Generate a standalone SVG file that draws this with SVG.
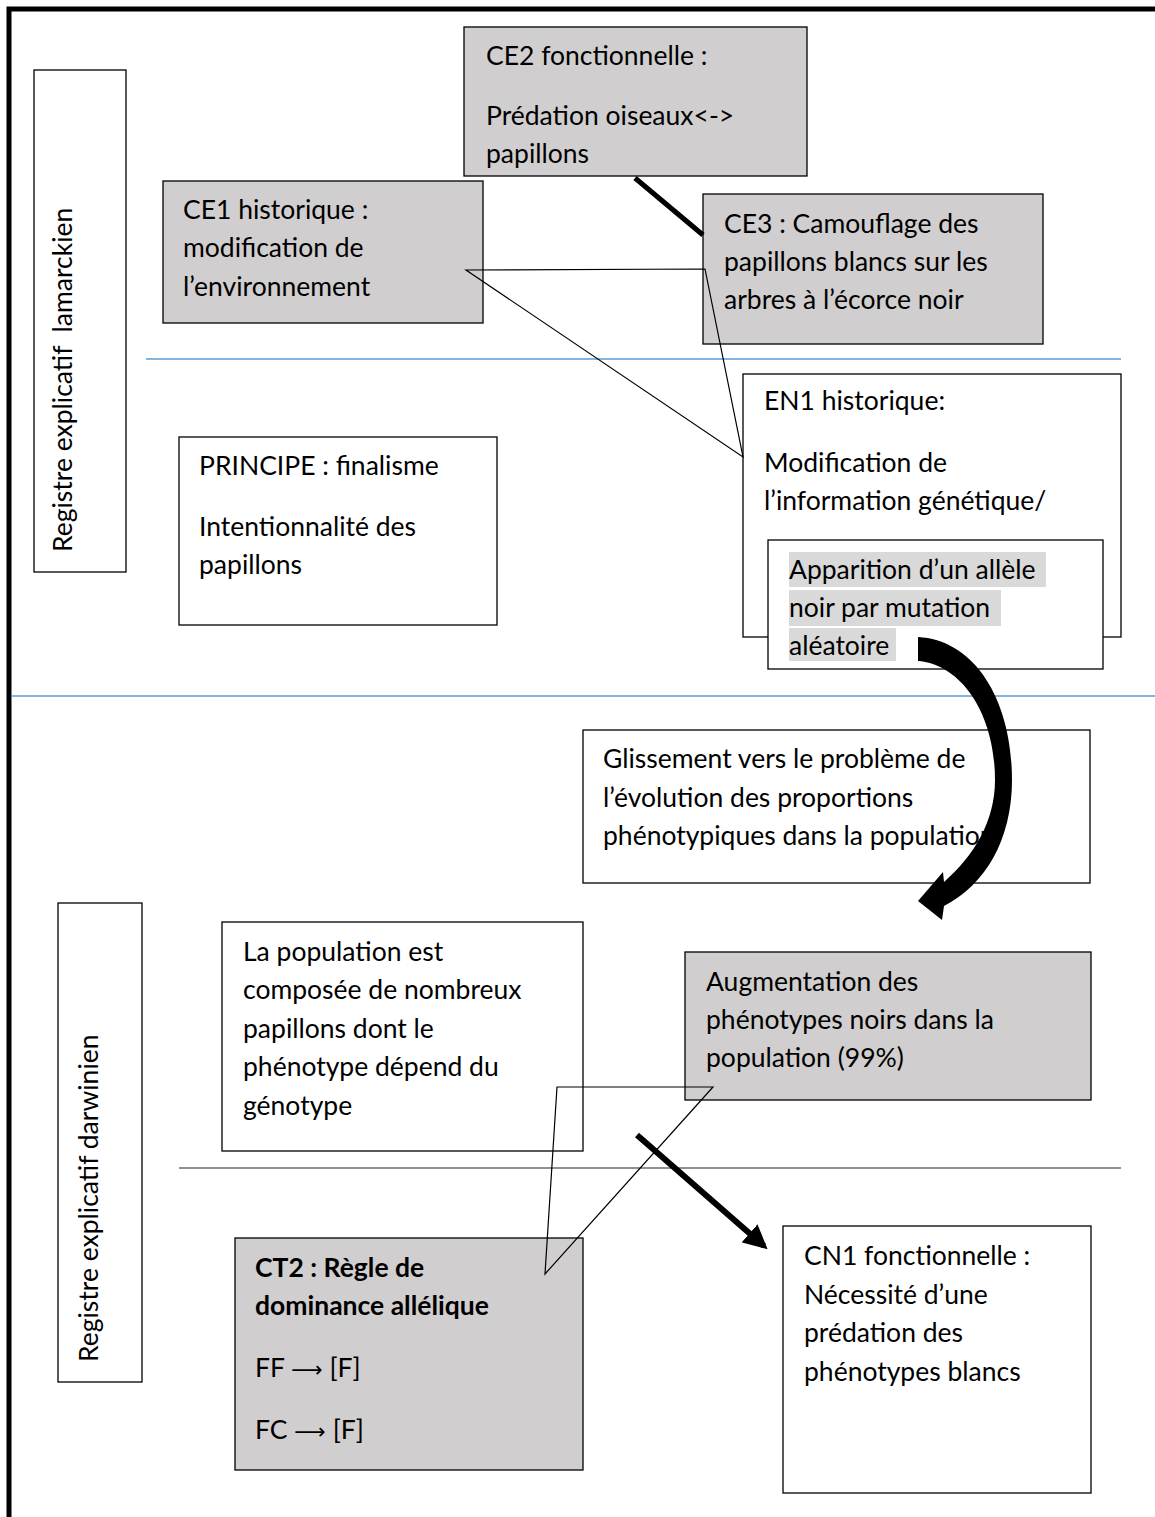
<svg xmlns="http://www.w3.org/2000/svg" width="1155" height="1517" viewBox="0 0 1155 1517">
<style>
text{font-family:Lato,"Liberation Sans",sans-serif;font-size:26.5px;fill:#000;white-space:pre}
.box{stroke:#000;stroke-width:1.3}
.g{fill:#d0cece}
.w{fill:#fff}
.hl{fill:#d9d9d9}
.thin{stroke:#000;stroke-width:1.2;fill:none}
.blue{stroke:#5b9bd5;stroke-width:1.3}
.b{font-weight:bold}
.sym{font-family:"DejaVu Sans","Liberation Sans",sans-serif;font-size:22px}
</style>
<defs>
<marker id="ah" markerWidth="4" markerHeight="4" refX="3.2" refY="2" orient="auto" markerUnits="strokeWidth">
<path d="M0,0 L4,2 L0,4 Z" fill="#000"/>
</marker>
</defs>
<rect width="1155" height="1517" fill="#fff"/>
<g id="frame">
<path d="M9,1517 V9 H1155" fill="none" stroke="#000" stroke-width="5"/>
<line class="blue" x1="146" y1="359" x2="1121" y2="359"/>
<line class="blue" x1="11" y1="696" x2="1155" y2="696"/>
<line x1="179" y1="1168" x2="1121" y2="1168" stroke="#222" stroke-width="1.2"/>
</g>
<g id="label-lamarck">
<rect class="box w" x="34" y="70" width="92" height="502"/>
<text transform="translate(72,552) rotate(-90)">Registre explicatif  lamarckien</text>
</g>
<g id="label-darwin">
<rect class="box w" x="58" y="903" width="84" height="479"/>
<text transform="translate(98,1362) rotate(-90)">Registre explicatif darwinien</text>
</g>
<g id="CE2">
<rect class="box g" x="464" y="27" width="343" height="149"/>
<text x="486" y="65">CE2 fonctionnelle :</text>
<text x="486" y="125">Prédation oiseaux&lt;-&gt;</text>
<text x="486" y="163">papillons</text>
</g>
<g id="CE1">
<rect class="box g" x="163" y="181" width="320" height="142"/>
<text x="183" y="219">CE1 historique :</text>
<text x="183" y="257">modification de</text>
<text x="183" y="296">l’environnement</text>
</g>
<g id="CE3">
<rect class="box g" x="703" y="194" width="340" height="150"/>
<text x="724" y="233">CE3 : Camouflage des</text>
<text x="724" y="271">papillons blancs sur les</text>
<text x="724" y="309">arbres à l’écorce noir</text>
</g>
<g id="EN1">
<rect class="box w" x="743" y="374" width="378" height="263"/>
<text x="764" y="410">EN1 historique:</text>
<text x="764" y="472">Modification de</text>
<text x="764" y="510">l’information génétique/</text>
</g>
<g id="apparition">
<rect class="box w" x="768" y="540" width="335" height="129"/>
<rect class="hl" x="789" y="552" width="257" height="35"/>
<rect class="hl" x="789" y="590" width="212" height="36"/>
<rect class="hl" x="789" y="628" width="107" height="33"/>
<text x="789" y="579">Apparition d’un allèle</text>
<text x="789" y="617">noir par mutation</text>
<text x="789" y="655">aléatoire</text>
</g>
<g id="principe">
<rect class="box w" x="179" y="437" width="318" height="188"/>
<text x="199" y="475">PRINCIPE : finalisme</text>
<text x="199" y="536">Intentionnalité des</text>
<text x="199" y="574">papillons</text>
</g>
<g id="glissement">
<rect class="box w" x="583" y="730" width="507" height="153"/>
<text x="603" y="768">Glissement vers le problème de</text>
<text x="603" y="807">l’évolution des proportions</text>
<text x="603" y="845">phénotypiques dans la population</text>
</g>
<g id="population">
<rect class="box w" x="222" y="922" width="361" height="229"/>
<text x="243" y="961">La population est</text>
<text x="243" y="999">composée de nombreux</text>
<text x="243" y="1038">papillons dont le</text>
<text x="243" y="1076">phénotype dépend du</text>
<text x="243" y="1115">génotype</text>
</g>
<g id="augmentation">
<rect class="box g" x="685" y="952" width="406" height="148"/>
<text x="706" y="991">Augmentation des</text>
<text x="706" y="1029">phénotypes noirs dans la</text>
<text x="706" y="1067">population (99%)</text>
</g>
<g id="CT2">
<rect class="box g" x="235" y="1238" width="348" height="232"/>
<text class="b" x="255" y="1277">CT2 : Règle de</text>
<text class="b" x="255" y="1315">dominance allélique</text>
<text x="255" y="1377">FF <tspan class="sym">⟶</tspan> [F]</text>
<text x="255" y="1439">FC <tspan class="sym">⟶</tspan> [F]</text>
</g>
<g id="CN1">
<rect class="box w" x="783" y="1226" width="308" height="267"/>
<text x="804" y="1265">CN1 fonctionnelle :</text>
<text x="804" y="1304">Nécessité d’une</text>
<text x="804" y="1342">prédation des</text>
<text x="804" y="1381">phénotypes blancs</text>
</g>
<g id="connectors">
<line x1="635" y1="178" x2="703" y2="235" stroke="#000" stroke-width="5"/>
<path class="thin" d="M466,270 L705,269 L743,457 Z"/>
<path class="thin" d="M557,1087 L713,1087 L545,1274 Z"/>
<line x1="637" y1="1135" x2="764" y2="1246" stroke="#000" stroke-width="6" marker-end="url(#ah)"/>
<path d="M918,637 C975,640 1012,700 1012,780 C1012,840 985,885 944,906 L942,920 L918,901 L943,872 L944,882 C975,855 995,820 995,780 C995,712 960,664 918,661 Z" fill="#000"/>
</g>
</svg>
